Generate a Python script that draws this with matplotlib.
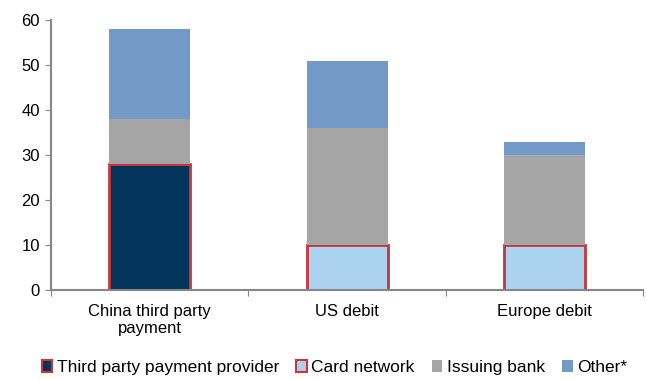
import numpy as np
import matplotlib.pyplot as plt
from matplotlib.patches import Patch

plt.rcParams['font.family'] = ['Liberation Sans', 'DejaVu Sans']

categories = ['China third party\npayment', 'US debit', 'Europe debit']
third_party = [28, 0, 0]
card_network = [0, 10, 10]
issuing_bank = [10, 26, 20]
other = [20, 15, 3]

navy = '#02345c'
light_blue = '#abd3ef'
grey = '#a5a5a5'
blue = '#7399c6'
red = '#c6363a'
axis_grey = '#868686'

fig = plt.figure(figsize=(6.47, 3.79), dpi=100)
ax = fig.add_axes([0.079, 0.235, 0.915, 0.712])

x = np.arange(len(categories))
w = 0.41

b1 = np.array(third_party)
b2 = b1 + np.array(card_network)
b3 = b2 + np.array(issuing_bank)

ax.bar(x, third_party, w, color=navy, edgecolor=red, linewidth=2)
ax.bar(x, card_network, w, bottom=b1, color=light_blue, edgecolor=red, linewidth=2)
ax.bar(x, issuing_bank, w, bottom=b2, color=grey)
ax.bar(x, other, w, bottom=b3, color=blue)

ax.set_xlim(-0.5, 2.5)
ax.set_ylim(0, 60)
ax.set_yticks(range(0, 61, 10))
ax.set_xticks([-0.5, 0.5, 1.5, 2.5])
ax.set_xticklabels([])
ax.set_xticks(x, minor=True)
ax.set_xticklabels(categories, minor=True, fontsize=12, linespacing=1.15)
ax.tick_params(axis='x', which='minor', length=0, pad=10)
ax.tick_params(axis='x', which='major', length=4, color=axis_grey, direction='out')
ax.tick_params(axis='y', length=4, color=axis_grey, labelsize=12, pad=4)

for s in ['top', 'right']:
    ax.spines[s].set_visible(False)
for s in ['left', 'bottom']:
    ax.spines[s].set_color(axis_grey)
    ax.spines[s].set_linewidth(1.5)

handles = [
    Patch(facecolor=navy, edgecolor=red, linewidth=1.5, label='Third party payment provider'),
    Patch(facecolor=light_blue, edgecolor=red, linewidth=1.5, label='Card network'),
    Patch(facecolor=grey, label='Issuing bank'),
    Patch(facecolor=blue, label='Other*'),
]
fig.legend(handles=handles, loc='center', bbox_to_anchor=(0.517, 0.03), ncol=4,
           frameon=False, fontsize=12.5, handlelength=0.6, handleheight=0.6,
           handletextpad=0.25, columnspacing=1.0)

fig.savefig('out.png', dpi=100)
